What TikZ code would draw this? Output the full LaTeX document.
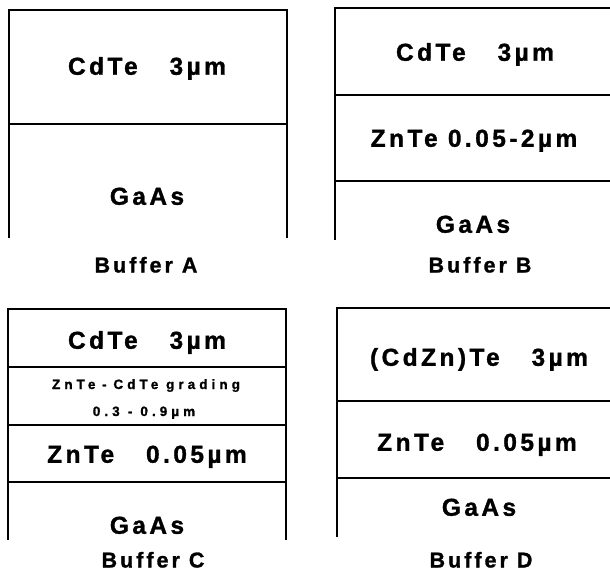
\documentclass[tikz,border=0pt]{standalone}
\usepackage{fontspec}
\setmainfont{Liberation Sans}
\newfontfamily\layerfont{Liberation Sans}[LetterSpace=14,FakeBold=1.2]
\newfontfamily\gradefont{Liberation Sans}[LetterSpace=30,FakeBold=1.2]
\begin{document}
\begin{tikzpicture}[x=1pt,y=-1pt,
  wall/.style={line width=1.4pt,line cap=butt},
  big/.style={inner sep=0pt,text height=17.5pt,text depth=0pt,
    font=\layerfont\bfseries\fontsize{24.5}{28}\selectfont},
  small/.style={inner sep=0pt,text height=10pt,text depth=0pt,
    font=\gradefont\bfseries\fontsize{13.5}{16}\selectfont},
  caption/.style={inner sep=0pt,text height=15pt,text depth=0pt,
    font=\layerfont\bfseries\fontsize{21.5}{25}\selectfont}]
\useasboundingbox[fill=white] (0,0) rectangle (610,575);

% ---- Buffer A ----
\draw[wall] (9,238) -- (9,10) -- (287,10) -- (287,238);
\draw[wall] (9,124) -- (287,124);
\node[big] (a1) at (147,66) {CdTe\hspace{1.3em}3µm};
\node[big] (a2) at (147,196) {GaAs};
\node[caption] (acap) at (146,265) {Buffer A};

% ---- Buffer B ----
\draw[wall] (335,240) -- (335,8) -- (610,8);
\draw[wall] (335,95) -- (610,95);
\draw[wall] (335,181) -- (610,181);
\node[big] (b1) at (475,52) {CdTe\hspace{1.3em}3µm};
\node[big] (b2) at (474,138) {ZnTe 0.05-2µm};
\node[big] (b3) at (473,224) {GaAs};
\node[caption] (bcap) at (480,265) {Buffer B};

% ---- Buffer C ----
\draw[wall] (8,540) -- (8,309) -- (286,309) -- (286,540);
\draw[wall] (8,367) -- (286,367);
\draw[wall] (8,425) -- (286,425);
\draw[wall] (8,482) -- (286,482);
\node[big] (c1) at (147,340) {CdTe\hspace{1.3em}3µm};
\node[small] (c2) at (146,384) {ZnTe\hspace{0.5em}-\hspace{0.5em}CdTe grading};
\node[small] (c3) at (144,411) {0.3\hspace{0.6em}-\hspace{0.6em}0.9µm};
\node[big] (c4) at (147,454) {ZnTe\hspace{1.3em}0.05µm};
\node[big] (c5) at (147,525) {GaAs};
\node[caption] (ccap) at (153,560) {Buffer C};

% ---- Buffer D ----
\draw[wall] (337,537) -- (337,308) -- (610,308);
\draw[wall] (337,401) -- (610,401);
\draw[wall] (337,478) -- (610,478);
\node[big] (d1) at (479,357) {(CdZn)Te\hspace{1.3em}3µm};
\node[big] (d2) at (477,442) {ZnTe\hspace{1.3em}0.05µm};
\node[big] (d3) at (479,507) {GaAs};
\node[caption] (dcap) at (481,560) {Buffer D};
\end{tikzpicture}
\end{document}
